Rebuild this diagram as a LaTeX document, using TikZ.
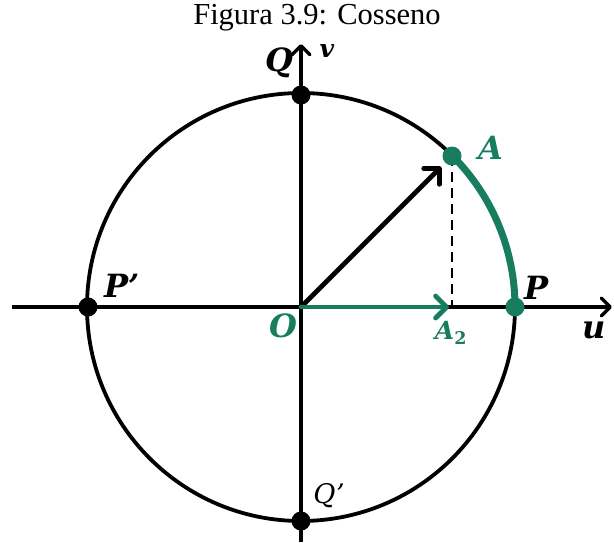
\documentclass[tikz,border=0pt]{standalone}
\usepackage{fontspec}
\setmainfont{Liberation Serif}
\newfontfamily\lblfont{DejaVu Serif}
\usetikzlibrary{arrows.meta}
\definecolor{tgreen}{RGB}{24,125,94}
\begin{document}
\begin{tikzpicture}[x=1pt,y=-1pt,
  axis/.style={line width=4pt,-{Straight Barb[length=9pt,width=18pt,line width=3.5pt,round]}},
  vec/.style={line width=#1,line cap=round,-{Straight Barb[length=11pt,width=22pt,line width=#1,round]}},
  dotb/.style={circle,fill=black,inner sep=0pt,minimum size=19pt},
  dotg/.style={circle,fill=tgreen,inner sep=0pt,minimum size=19pt},
  lbl/.style={font=\lblfont\fontsize{32}{32}\selectfont\bfseries\itshape,inner sep=0pt},
  lblsmall/.style={font=\lblfont\fontsize{25}{25}\selectfont\bfseries\itshape,inner sep=0pt},
]
\useasboundingbox (0,0) rectangle (614,542);
\node[font=\fontsize{30.5}{30.5}\selectfont,inner sep=0pt] (title) at (317,18) {Figura 3.9: Cosseno};
\coordinate (O) at (301,307);
\coordinate (xl) at (12,307);
\coordinate (xr) at (612,307);
\coordinate (yt) at (301,44);
\coordinate (yb) at (301,542);
\draw[axis] (xl) -- (xr);
\draw[axis] (yb) -- (yt);
\draw[line width=3.8pt] (O) circle[radius=214];
\coordinate (A) at (452,156);
\coordinate (A2) at (452,307);
\coordinate (Pc) at (515,307);
\coordinate (Atip) at (441,167);
\draw[line width=2.4pt,dash pattern=on 10pt off 6pt] (A) -- (A2);
\draw[line width=7pt,tgreen] (Pc) arc[start angle=0,end angle=-45,radius=214];
\draw[vec=4.8pt] (O) -- (Atip);
\draw[vec=4.8pt,tgreen] (O) -- (449,307);
\node[dotb] (Q) at (301,95) {};
\node[dotb] (Pp) at (88,307) {};
\node[dotb] (Qp) at (301,521) {};
\node[dotg] (P) at (515,307) {};
\node[dotg] (Adot) at (A) {};
\node[lbl] (Ql) at (279,63) {Q};
\node[lblsmall] (vl) at (327,51) {v};
\node[lbl,tgreen] (Al) at (491,148) {A};
\node[lbl] (Pl) at (537,288) {P};
\node[lbl] (Ppl) at (122,286) {P’};
\node[lbl,tgreen] (Ol) at (283,326) {O};
\node[lblsmall,tgreen] (A2l) at (451,333) {A\textsubscript{\upshape 2}};
\node[lbl] (ul) at (594,330) {u};
\node[font=\lblfont\fontsize{27}{27}\selectfont\itshape,inner sep=0pt] (Qpl) at (329,496) {Q’};
\end{tikzpicture}
\end{document}
